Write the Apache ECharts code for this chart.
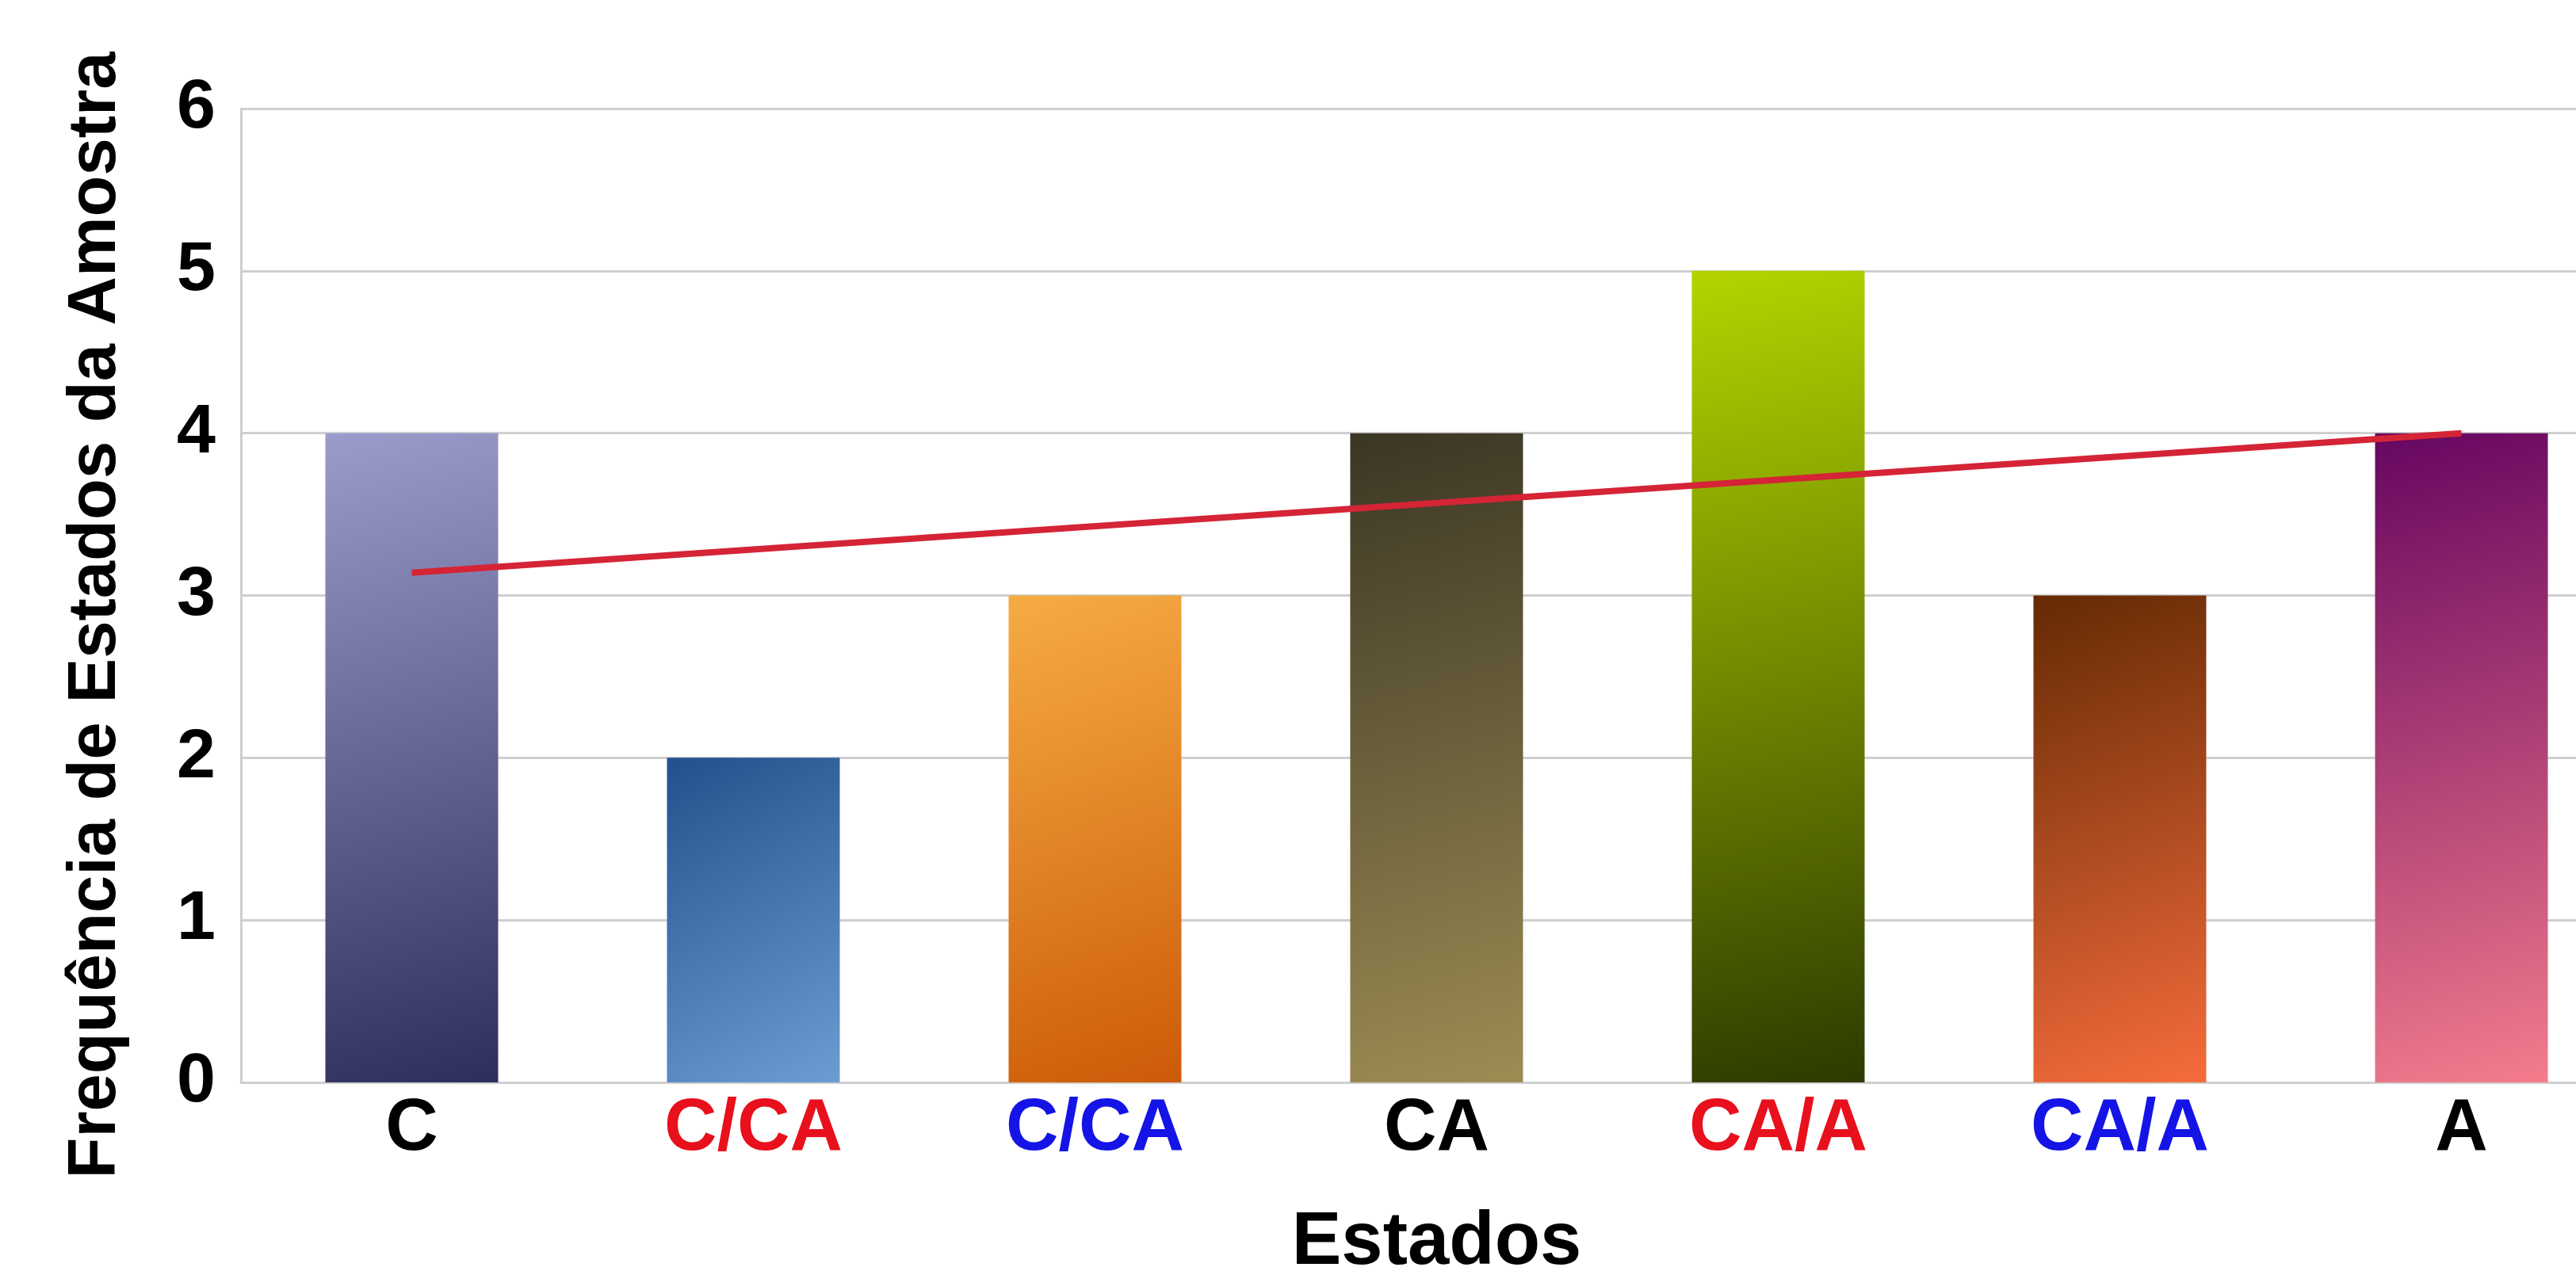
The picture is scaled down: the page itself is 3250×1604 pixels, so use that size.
<!DOCTYPE html>
<html>
<head>
<meta charset="utf-8">
<title>Frequência de Estados da Amostra</title>
<script src="https://cdn.jsdelivr.net/npm/echarts@6/dist/echarts.min.js"></script>
<style>
  html, body { margin: 0; padding: 0; background: #ffffff; }
  #chart { width: 3250px; height: 1604px; }
</style>
</head>
<body>
<div id="chart"></div>
<script>
// Categories (states) and the sample frequency of each
const categories = ['C', 'C/CA', 'C/CA', 'CA', 'CA/A', 'CA/A', 'A'];
const frequencies = [4, 2, 3, 4, 5, 3, 4];
const labelColors = ['#000000', '#e8101c', '#1414e6', '#000000', '#e8101c', '#1414e6', '#000000'];

// Linear trend line endpoints (first and last category)
const trendStart = 3.14;
const trendEnd = 4.0;

// Y axis ticks
const yTicks = [0, 1, 2, 3, 4, 5, 6];

// Gradient stops per bar: top-left colour, bottom-right colour
const barGradients = [
  ['#9c9ccc', '#2e2e5c'],
  ['#23508c', '#6c9cd2'],
  ['#f6ac44', '#cc5a08'],
  ['#3a3624', '#9e8c54'],
  ['#b4d400', '#2c3a00'],
  ['#642a04', '#f66c3c'],
  ['#660660', '#f47c8c']
];

const FONT = '"Liberation Sans", Arial, Helvetica, sans-serif';
const GRID_GRAY = '#cfcfcf';

const chart = echarts.init(document.getElementById('chart'), null, { renderer: 'canvas' });

const barData = frequencies.map((v, i) => ({
  value: v,
  itemStyle: {
    color: new echarts.graphic.LinearGradient(0, 0, 1, 1, [
      { offset: 0, color: barGradients[i][0] },
      { offset: 1, color: barGradients[i][1] }
    ])
  }
}));

const trendData = categories.map((c, i) => {
  if (i === 0) return trendStart;
  if (i === categories.length - 1) return trendEnd;
  return '-';
});

chart.setOption({
  backgroundColor: '#ffffff',
  animation: false,
  grid: {
    left: 304,
    top: 137,
    width: 3017,
    height: 1229,
    containLabel: false,
    outerBoundsMode: 'none'
  },
  xAxis: {
    type: 'category',
    data: categories,
    name: 'Estados',
    nameLocation: 'middle',
    nameGap: 156,
    nameTextStyle: {
      fontFamily: FONT,
      fontWeight: 'bold',
      fontSize: 94,
      color: '#000000'
    },
    axisLine: { show: true, lineStyle: { color: GRID_GRAY, width: 3 } },
    axisTick: { show: false },
    axisLabel: {
      interval: 0,
      margin: 14,
      fontFamily: FONT,
      fontWeight: 'bold',
      fontSize: 92,
      color: (value, index) => labelColors[index]
    },
    splitLine: { show: false }
  },
  yAxis: {
    type: 'value',
    min: yTicks[0],
    max: yTicks[yTicks.length - 1],
    interval: 1,
    name: 'Frequência de Estados da Amostra',
    nameLocation: 'middle',
    nameGap: 140,
    nameTextStyle: {
      fontFamily: FONT,
      fontWeight: 'bold',
      fontSize: 85,
      color: '#000000',
      padding: [0, 50, 0, 0]
    },
    axisLine: { show: true, lineStyle: { color: GRID_GRAY, width: 3 } },
    axisTick: { show: false },
    axisLabel: {
      margin: 32,
      fontFamily: FONT,
      fontWeight: 'bold',
      fontSize: 88,
      color: '#000000'
    },
    splitLine: { show: true, lineStyle: { color: GRID_GRAY, width: 3 } }
  },
  series: [
    {
      name: 'Frequência',
      type: 'bar',
      data: barData,
      barWidth: 218,
      z: 2
    },
    {
      name: 'Tendência',
      type: 'line',
      data: trendData,
      connectNulls: true,
      symbol: 'none',
      lineStyle: { color: '#d42436', width: 8 },
      z: 5
    }
  ]
});
</script>
</body>
</html>
